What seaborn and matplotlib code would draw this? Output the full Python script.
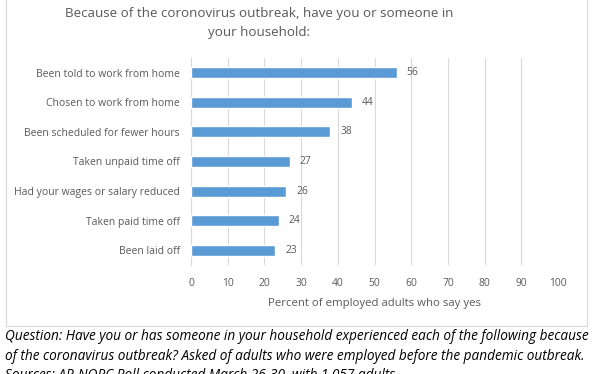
import matplotlib
matplotlib.use("Agg")
import matplotlib.pyplot as plt
import pandas as pd
import seaborn as sns
from matplotlib.patches import Rectangle

categories = [
    "Been told to work from home",
    "Chosen to work from home",
    "Been scheduled for fewer hours",
    "Taken unpaid time off",
    "Had your wages or salary reduced",
    "Taken paid time off",
    "Been laid off",
]
values = [56, 44, 38, 27, 26, 24, 23]
x_ticks = [0, 10, 20, 30, 40, 50, 60, 70, 80, 90, 100]

title = "Because of the coronovirus outbreak, have you or someone in\nyour household:"
x_label = "Percent of employed adults who say yes"
footnote = ("Question: Have you or has someone in your household experienced each of the following because\n"
            "of the coronavirus outbreak? Asked of adults who were employed before the pandemic outbreak.\n"
            "Sources: AP-NORC Poll conducted March 26-30, with 1,057 adults.")

sns.set_theme(style="white")
plt.rcParams["font.family"] = ["Open Sans", "DejaVu Sans"]

text_color = "#595959"
bar_color = "#5B9BD5"
grid_color = "#D9D9D9"

df = pd.DataFrame({"category": categories, "value": values})

fig = plt.figure(figsize=(5.93, 3.74), dpi=100)
ax = fig.add_axes([191 / 593, 1 - 265 / 374, 367 / 593, 207 / 374])

sns.barplot(data=df, x="value", y="category", color=bar_color, width=0.37,
            saturation=1, ax=ax, zorder=3)

ax.set_xlim(0, 100)
ax.set_xticks(x_ticks)
ax.xaxis.grid(True, color=grid_color, linewidth=0.8, zorder=0)
ax.yaxis.grid(False)
for side in ["top", "right", "bottom"]:
    ax.spines[side].set_visible(False)
ax.spines["left"].set_color(grid_color)
ax.spines["left"].set_linewidth(0.8)
ax.tick_params(axis="x", length=0, labelsize=7.4, colors=text_color, pad=9)
ax.tick_params(axis="y", length=0, labelsize=7.45, colors=text_color, pad=8)
ax.set_ylabel("")
ax.set_xlabel(x_label, fontsize=8.2, color=text_color, labelpad=7)

for container in ax.containers:
    ax.bar_label(container, padding=7, fontsize=7.4, color=text_color)

fig.text(259 / 593, 1 - 23 / 374, title, ha="center", va="center", fontsize=9.6,
         color=text_color, linespacing=1.55)

# chart frame
fig.patches.append(Rectangle((6 / 593, 1 - 326 / 374), 581 / 593, 326 / 374 + 0.01,
                             transform=fig.transFigure, fill=False,
                             edgecolor=grid_color, linewidth=0.8))

fig.text(5 / 593, 1 - 329 / 374, footnote, ha="left", va="top", fontsize=9.8,
         style="italic", color="black", linespacing=1.42)

fig.savefig("out.png", dpi=100, facecolor="white")
